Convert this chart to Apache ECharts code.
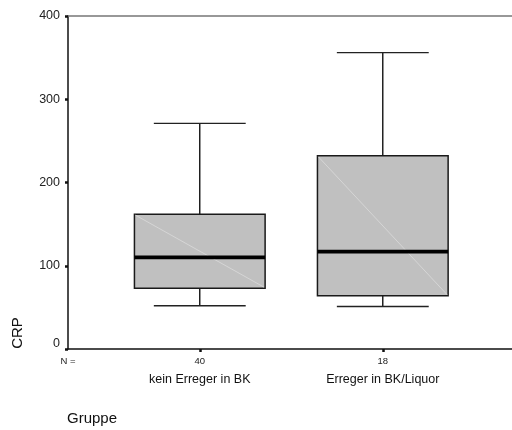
<!DOCTYPE html>
<html>
<head>
<meta charset="utf-8">
<script src="https://cdn.jsdelivr.net/npm/echarts@6/dist/echarts.min.js"></script>
<style>
  html, body { margin: 0; padding: 0; background: #fff; }
  #chart { width: 512px; height: 430px; }
</style>
</head>
<body>
<div id="chart"></div>
<script>
// Boxplot of CRP by group
const groups = ['kein Erreger in BK', 'Erreger in BK/Liquor'];
const counts = [40, 18];
const whiskerLow = [52, 51];
const q1 = [73, 64];
const median = [110, 117];
const q3 = [162, 232];
const whiskerHigh = [271, 356];
const yTicks = [0, 100, 200, 300, 400];

const FONT = 'Arial, "Liberation Sans", sans-serif';
const X_MIN = 0.28;
const X_MAX = 2.706;

// one row per group: [position, low, q1, median, q3, high]
const rows = groups.map((g, i) => [i + 1, whiskerLow[i], q1[i], median[i], q3[i], whiskerHigh[i]]);

function renderBox(params, api) {
  const x = api.value(0);
  const lo = api.coord([x, api.value(1)]);
  const b1 = api.coord([x, api.value(2)]);
  const md = api.coord([x, api.value(3)]);
  const b3 = api.coord([x, api.value(4)]);
  const hi = api.coord([x, api.value(5)]);
  const unit = api.size([1, 0])[0];
  const half = unit * 0.357;
  const capHalf = unit * 0.251;
  const cx = lo[0];
  const line = (x1, y1, x2, y2, w, c) => ({
    type: 'line',
    shape: { x1, y1, x2, y2 },
    style: { stroke: c || '#000', lineWidth: w }
  });
  return {
    type: 'group',
    children: [
      line(cx, lo[1], cx, b1[1], 1.3),
      line(cx, b3[1], cx, hi[1], 1.3),
      line(cx - capHalf, lo[1], cx + capHalf, lo[1], 1.4, '#222'),
      line(cx - capHalf, hi[1], cx + capHalf, hi[1], 1.4, '#222'),
      {
        type: 'rect',
        shape: { x: cx - half, y: b3[1], width: half * 2, height: b1[1] - b3[1] },
        style: { fill: '#c0c0c0', stroke: '#1a1a1a', lineWidth: 1.5 }
      },
      line(cx - half + 1, b3[1] + 1, cx + half - 1, b1[1] - 1, 0.8, '#dadada'),
      line(cx - half, md[1], cx + half, md[1], 3.6, '#000')
    ]
  };
}

const chart = echarts.init(document.getElementById('chart'), null, { renderer: 'canvas' });
chart.setOption({
  backgroundColor: '#fff',
  animation: false,
  grid: { left: 68, top: 16, bottom: 81, right: 0, show: false },
  xAxis: [{
    type: 'value',
    min: X_MIN,
    max: X_MAX,
    axisLine: { show: true, lineStyle: { color: '#111', width: 1.5 } },
    axisTick: {
      show: true, customValues: [1, 2], length: 3, lineStyle: { color: '#111', width: 2.5 }
    },
    splitLine: { show: false },
    axisLabel: {
      customValues: [X_MIN, 1, 2],
      margin: 5,
      color: '#222',
      fontFamily: FONT,
      formatter: function (v) {
        if (v < 0.5) return '{n|N =}';
        const i = Math.round(v) - 1;
        return '{n|' + counts[i] + '}\n{c|' + groups[i] + '}';
      },
      rich: {
        n: { fontSize: 9.5, lineHeight: 14, fontFamily: FONT, color: '#222' },
        c: { fontSize: 12.5, lineHeight: 23, fontFamily: FONT, color: '#111' }
      }
    }
  }, {
    // top frame line
    type: 'value',
    position: 'top',
    min: X_MIN,
    max: X_MAX,
    axisLine: { show: true, lineStyle: { color: '#777', width: 1.5 } },
    axisTick: { show: false },
    axisLabel: { show: false },
    splitLine: { show: false }
  }],
  yAxis: {
    type: 'value',
    min: 0,
    max: 400,
    interval: 100,
    axisLine: { show: true, lineStyle: { color: '#111', width: 1.5 } },
    axisTick: { show: true, length: 3, lineStyle: { color: '#111', width: 2.5 } },
    splitLine: { show: false },
    axisLabel: {
      margin: 8, fontSize: 12.5, color: '#222', fontFamily: FONT,
      formatter: v => (v === 0 ? '{z|0}' : (yTicks.includes(v) ? String(v) : '')),
      rich: {
        z: { fontSize: 12.5, fontFamily: FONT, color: '#222', padding: [0, 0, 10, 0] }
      }
    }
  },
  graphic: [
    {
      type: 'text', x: 18, y: 333, rotation: Math.PI / 2,
      style: { text: 'CRP', font: '15px ' + FONT, fill: '#111', align: 'center', verticalAlign: 'middle' }
    },
    {
      type: 'text', left: 67, top: 411,
      style: { text: 'Gruppe', font: '15px ' + FONT, fill: '#111' }
    }
  ],
  series: [{
    type: 'custom',
    renderItem: renderBox,
    xAxisIndex: 0,
    encode: { x: 0, y: [1, 2, 3, 4, 5] },
    data: rows,
    clip: false
  }]
});
</script>
</body>
</html>
